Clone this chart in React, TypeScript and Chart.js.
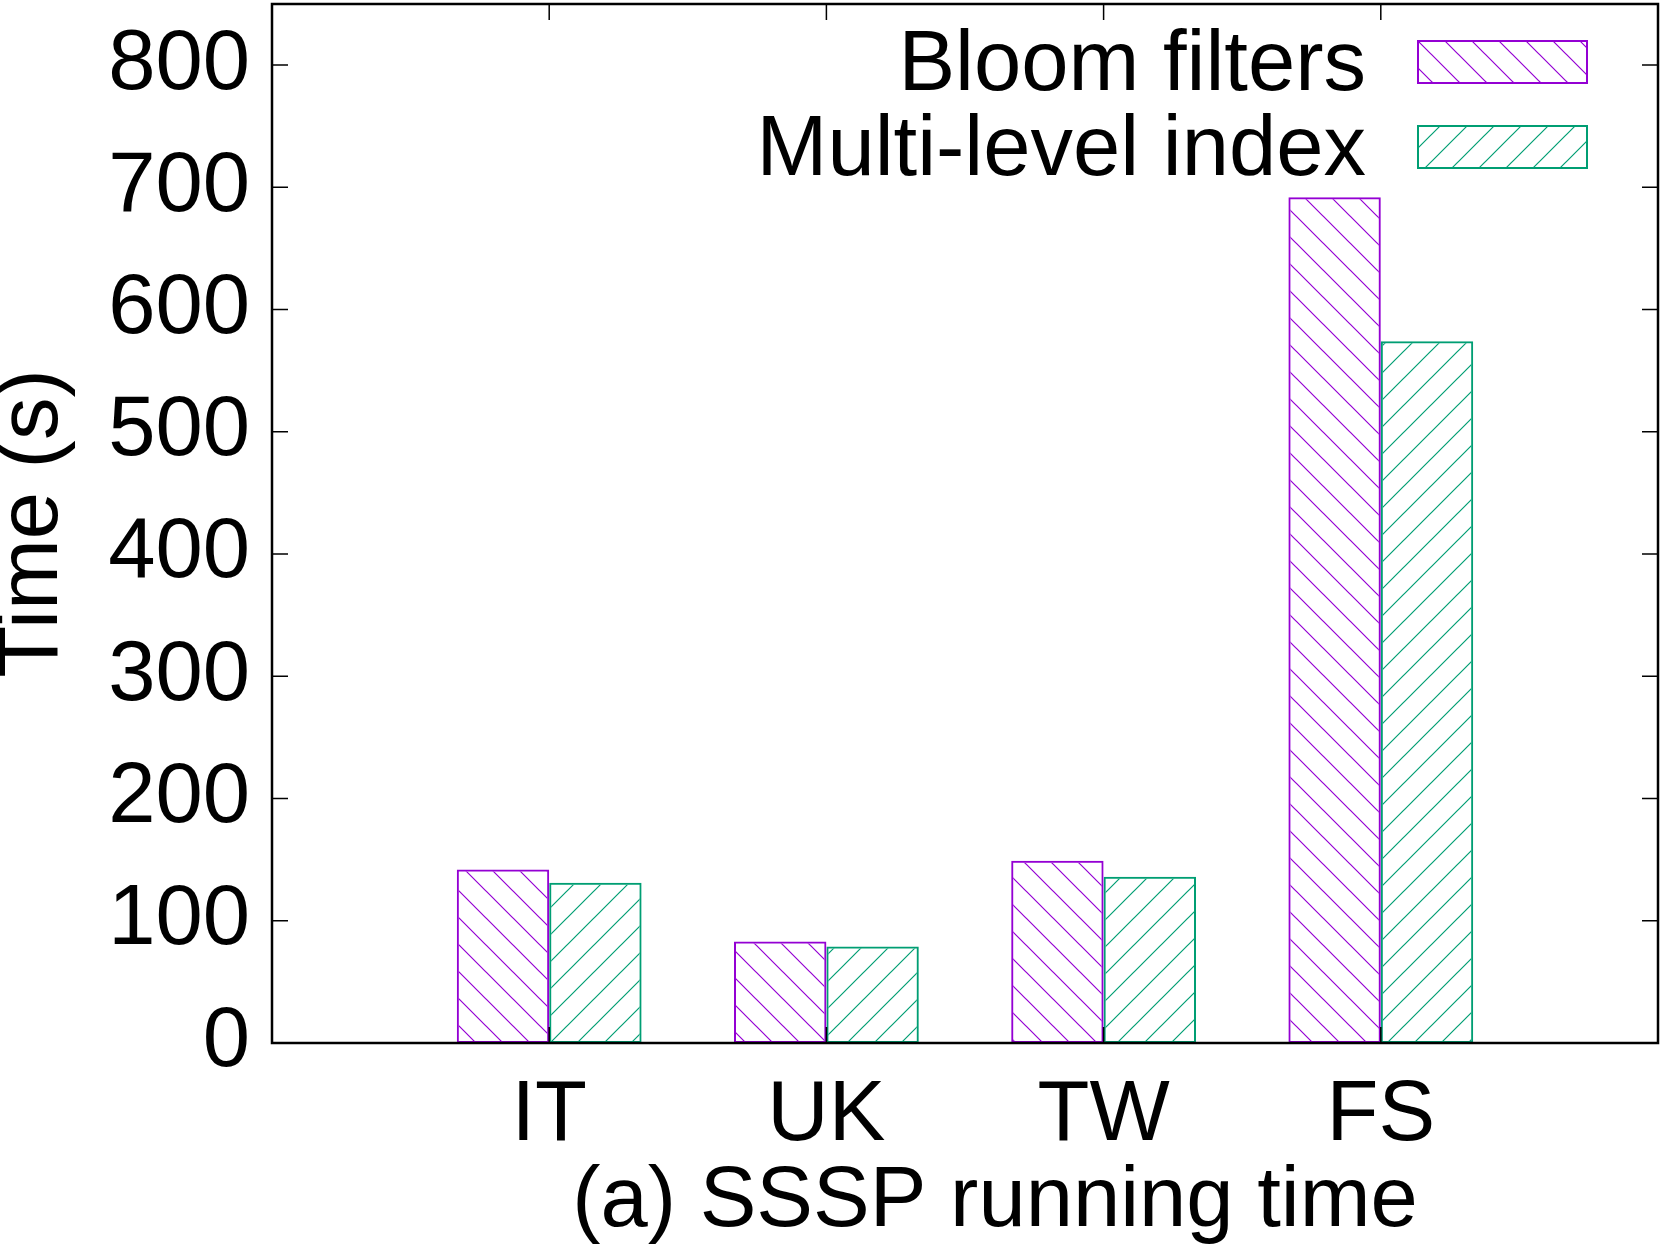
import React, { useEffect, useRef } from 'react';
import { Chart, registerables } from 'chart.js';

Chart.register(...registerables);

// ---- data ----
const categories = ['IT', 'UK', 'TW', 'FS'];
const bloomFilters = [142, 83, 149, 692];
const multiLevelIndex = [131, 79, 136, 574];
const seriesNames = ['Bloom filters', 'Multi-level index'];
const yTickValues = [0, 100, 200, 300, 400, 500, 600, 700, 800];
const yMax = 850;
const xTitle = '(a) SSSP running time';
const yTitle = 'Time (s)';

// ---- style ----
const W = 1661;
const H = 1248;
const PURPLE = '#9400d3';
const GREEN = '#009e73';
const FONT = '"Liberation Sans", Arial, Helvetica, sans-serif';
const FS = 85;

function makeHatch(ctx: CanvasRenderingContext2D, color: string, dir: 'back' | 'fwd') {
  const s = 27;
  const c = document.createElement('canvas');
  c.width = s;
  c.height = s;
  const g = c.getContext('2d')!;
  g.strokeStyle = color;
  g.lineWidth = 1.2;
  g.beginPath();
  for (let k = -1; k <= 2; k++) {
    if (dir === 'back') {
      g.moveTo(-1, k * s - 1);
      g.lineTo(s + 1, k * s + s + 1);
    } else {
      g.moveTo(-1, k * s + 1);
      g.lineTo(s + 1, k * s - s - 1);
    }
  }
  g.stroke();
  return ctx.createPattern(c, 'repeat')!;
}

export default function App() {
  const ref = useRef<HTMLCanvasElement | null>(null);

  useEffect(() => {
    document.body.style.margin = '0';
    const canvas = ref.current!;
    const ctx = canvas.getContext('2d')!;
    const hatchBloom = makeHatch(ctx, PURPLE, 'back');
    const hatchMulti = makeHatch(ctx, GREEN, 'fwd');

    const labels = ['', ...categories, ''];
    const pad = (arr: number[]) => [null, ...arr, null];

    const framePlugin = {
      id: 'frame',
      afterDatasetsDraw(chart: any) {
        const { ctx: c, chartArea, scales } = chart;
        const { left, right, top, bottom } = chartArea;
        const x = scales.x;
        const y = scales.y;
        c.save();
        c.strokeStyle = '#000';
        c.lineWidth = 1.5;
        c.beginPath();
        yTickValues.forEach((v) => {
          const py = y.getPixelForValue(v);
          c.moveTo(left, py);
          c.lineTo(left + 16, py);
          c.moveTo(right, py);
          c.lineTo(right - 16, py);
        });
        categories.forEach((_, i) => {
          const px = x.getPixelForValue(i + 1);
          c.moveTo(px, bottom);
          c.lineTo(px, bottom - 16);
          c.moveTo(px, top);
          c.lineTo(px, top + 16);
        });
        c.stroke();
        c.lineWidth = 2.5;
        c.strokeRect(left, top, right - left, bottom - top);
        c.restore();
      },
      afterDraw(chart: any) {
        const { ctx: c, chartArea } = chart;
        const { left, right, top } = chartArea;
        c.save();
        // x-axis title
        c.font = `${FS}px ${FONT}`;
        c.fillStyle = '#000';
        c.textAlign = 'center';
        c.textBaseline = 'alphabetic';
        c.fillText(xTitle, (left + right) / 2 + 30, 1226);
        // legend
        const boxRight = right - 71;
        const boxW = 169;
        const boxH = 42;
        chart.data.datasets.forEach((ds: any, i: number) => {
          const cy = top + 58 + i * 85;
          c.font = `${FS}px ${FONT}`;
          c.fillStyle = '#000';
          c.textAlign = 'right';
          c.textBaseline = 'alphabetic';
          c.fillText(ds.label, boxRight - boxW - 52, cy + 28);
          c.fillStyle = ds.backgroundColor;
          c.fillRect(boxRight - boxW, cy - boxH / 2, boxW, boxH);
          c.strokeStyle = ds.borderColor;
          c.lineWidth = 2;
          c.strokeRect(boxRight - boxW, cy - boxH / 2, boxW, boxH);
        });
        c.restore();
      },
    };

    const chart = new Chart(canvas, {
      type: 'bar',
      data: {
        labels,
        datasets: [
          {
            label: seriesNames[0],
            data: pad(bloomFilters) as any,
            backgroundColor: hatchBloom as any,
            borderColor: PURPLE,
            borderWidth: 2,
            borderSkipped: false,
            categoryPercentage: 2 / 3,
            barPercentage: 1,
          },
          {
            label: seriesNames[1],
            data: pad(multiLevelIndex) as any,
            backgroundColor: hatchMulti as any,
            borderColor: GREEN,
            borderWidth: 2,
            borderSkipped: false,
            categoryPercentage: 2 / 3,
            barPercentage: 1,
          },
        ],
      },
      options: {
        responsive: false,
        animation: false,
        devicePixelRatio: 1,
        layout: { padding: { left: 0, top: 4, right: 3, bottom: 0 } },
        plugins: {
          legend: { display: false },
          tooltip: { enabled: false },
          title: { display: false },
        },
        scales: {
          x: {
            type: 'category',
            offset: false,
            grid: { display: false, drawTicks: false },
            border: { display: false },
            ticks: {
              font: { family: FONT, size: FS },
              color: '#000',
              padding: 23,
              maxRotation: 0,
              autoSkip: false,
            },
            title: { display: false },
            afterFit: (scale: any) => {
              scale.height = 205;
              scale.paddingLeft = 0;
              scale.paddingRight = 0;
            },
          },
          y: {
            type: 'linear',
            min: 0,
            max: yMax,
            grid: { display: false, drawTicks: false },
            border: { display: false },
            ticks: {
              stepSize: 100,
              includeBounds: false,
              font: { family: FONT, size: FS },
              color: '#000',
              padding: 22,
            },
            title: {
              display: true,
              text: yTitle,
              color: '#000',
              font: { family: FONT, size: FS, lineHeight: 0.78 },
              padding: 0,
            },
            afterFit: (scale: any) => {
              scale.width = 272;
              scale.paddingTop = 0;
              scale.paddingBottom = 0;
            },
          },
        },
      },
      plugins: [framePlugin],
    });

    return () => chart.destroy();
  }, []);

  return (
    <div style={{ width: W, height: H }}>
      <canvas ref={ref} width={W} height={H} style={{ display: 'block' }} />
    </div>
  );
}
